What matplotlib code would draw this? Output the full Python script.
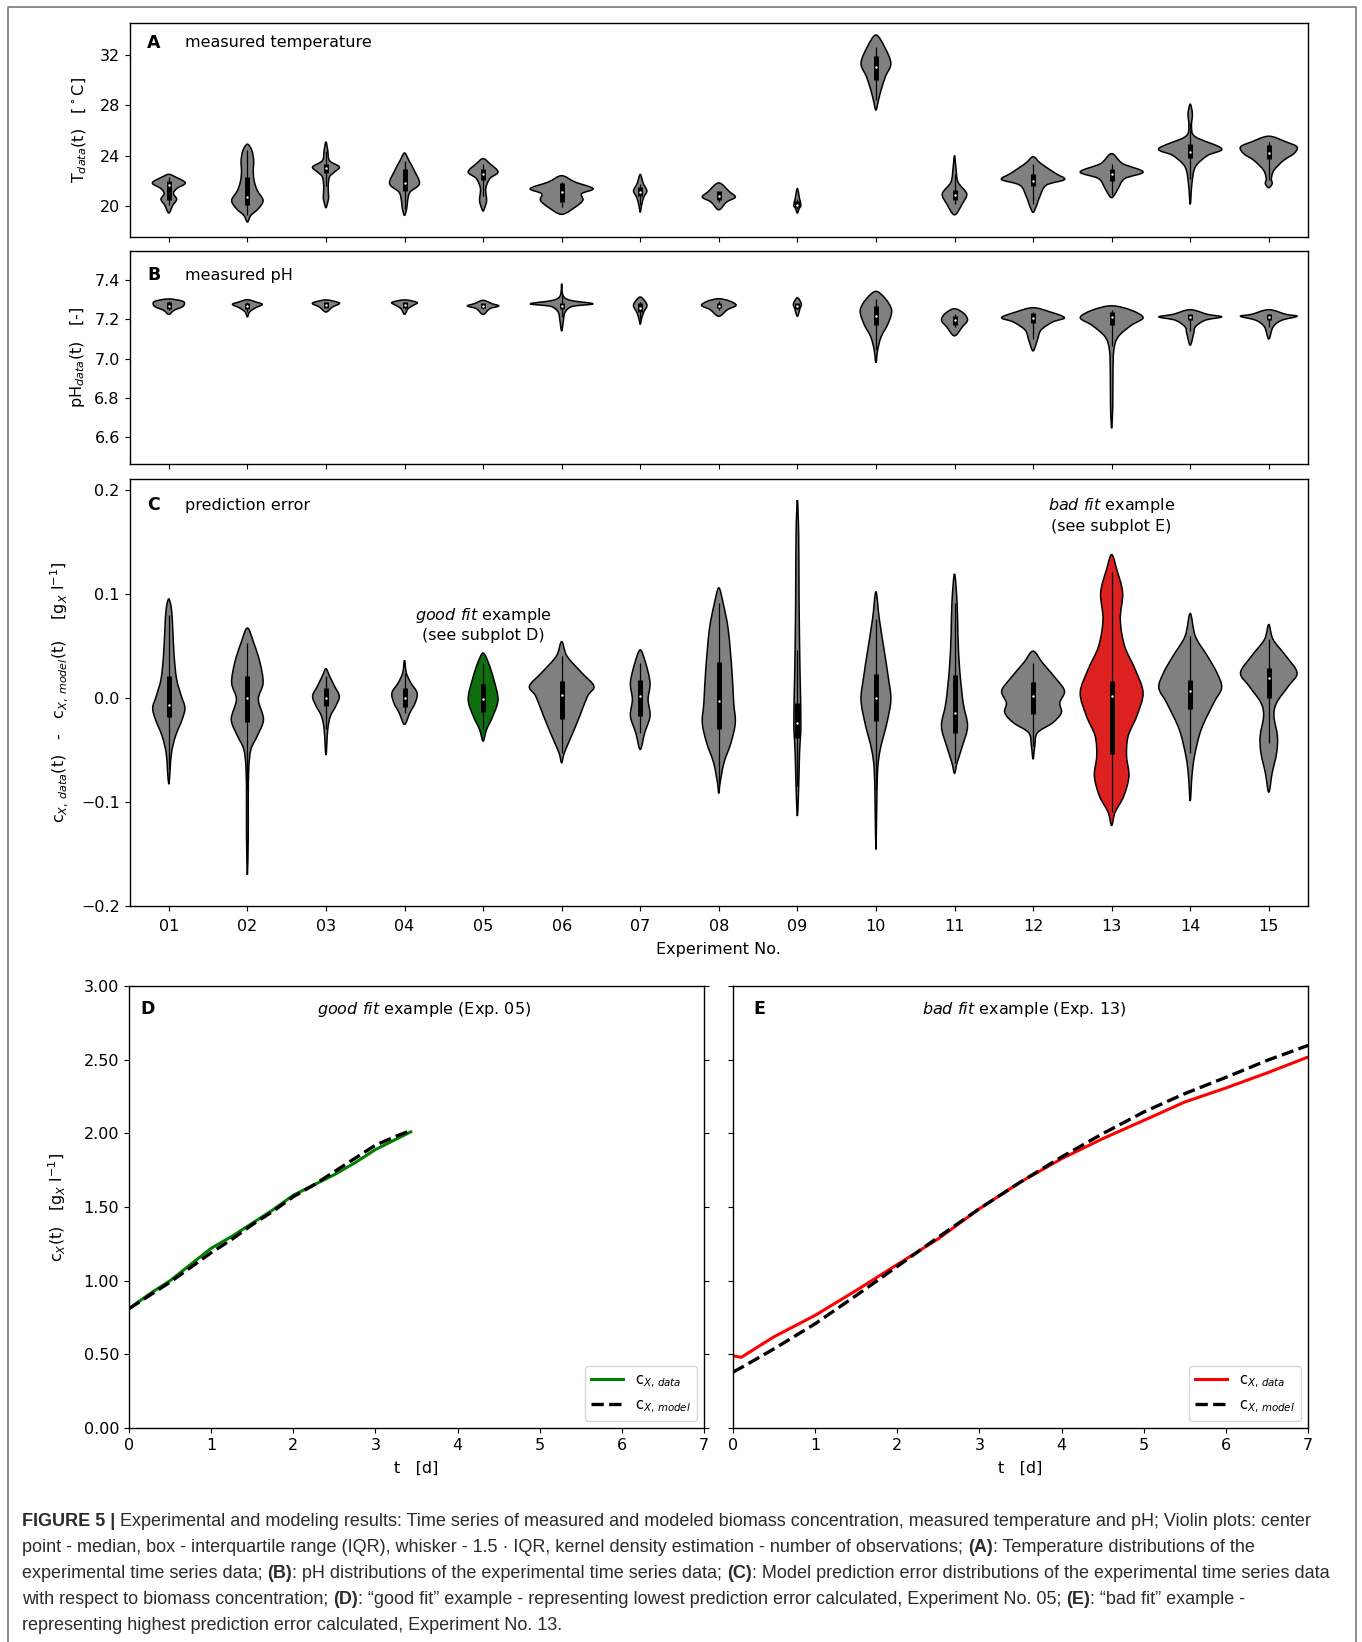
import matplotlib
matplotlib.use('Agg')
import matplotlib.pyplot as plt
from matplotlib.path import Path
from matplotlib.patches import PathPatch
from matplotlib.lines import Line2D

W, H = 1362, 1642

exp_labels = ['01', '02', '03', '04', '05', '06', '07', '08', '09', '10',
              '11', '12', '13', '14', '15']

# ---- panel A: temperature violins (value levels, half widths, [q1, median, q3])
temp_y = [
    [19.44, 20.05, 20.53, 20.98, 21.38, 21.83, 22.3, 22.51],
    [18.73, 19.26, 19.79, 20.45, 21.24, 22.04, 22.8, 23.6, 24.4, 24.9],
    [19.87, 20.3, 20.7, 21.5, 22.3, 22.7, 23.1, 23.6, 24.42, 25.08],
    [19.26, 19.8, 20.45, 21.1, 21.77, 22.8, 23.6, 24.2],
    [19.6, 19.9, 20.45, 21.38, 22.17, 22.7, 23.36, 23.76],
    [19.34, 19.9, 20.45, 20.98, 21.38, 21.9, 22.4],
    [19.5, 20.05, 20.7, 21.2, 21.77, 22.5],
    [19.7, 20.32, 20.7, 21.11, 21.83],
    [19.44, 19.79, 20.05, 20.58, 21.38],
    [27.6, 28.4, 29.2, 30.24, 31.3, 32.6, 33.55],
    [19.3, 20.18, 20.98, 21.9, 23.1, 24.0],
    [19.5, 20.05, 20.7, 21.64, 22.1, 22.57, 23.36, 23.9],
    [20.66, 20.85, 21.38, 22.17, 22.7, 23.36, 24.15],
    [20.13, 21.77, 23.1, 24.0, 24.55, 25.48, 26.27, 27.3, 28.07],
    [21.45, 21.77, 22.17, 22.83, 23.62, 24.15, 24.68, 25.08, 25.53],
]
temp_w = [
    [0, .05, .10, .06, .10, .21, .085, 0],
    [0, .045, .14, .20, .125, .085, .075, .08, .057, 0],
    [0, .023, .034, .028, .045, .11, .17, .045, .023, 0],
    [0, .028, .04, .07, .19, .125, .057, 0],
    [0, .023, .045, .034, .085, .19, .085, 0],
    [0, .17, .27, .255, .40, .17, 0],
    [0, .017, .045, .085, .04, 0],
    [0, .10, .21, .14, 0],
    [0, .022, .045, .028, 0],
    [0, .033, .066, .12, .19, .11, 0],
    [0, .10, .155, .045, .017, 0],
    [0, .045, .083, .166, .40, .29, .10, 0],
    [0, .033, .083, .166, .40, .14, 0],
    [0, .022, .066, .22, .40, .066, .017, .028, 0],
    [0, .044, .033, .066, .19, .32, .36, .22, 0],
]
temp_box = [
    [20.5, 21.7, 22.0], [20.1, 20.7, 22.3], [22.6, 23.0, 23.3], [21.2, 21.8, 22.9],
    [22.1, 22.5, 22.95], [20.3, 21.1, 21.8], [20.8, 21.1, 21.5], [20.5, 20.8, 21.2],
    [19.9, 20.05, 20.4], [30.0, 31.0, 31.9], [20.5, 20.9, 21.3], [21.6, 22.0, 22.55],
    [22.0, 22.5, 22.9], [23.8, 24.3, 24.9], [23.7, 24.2, 24.8],
]

# ---- panel B: pH violins
ph_y = [
    [7.226, 7.247, 7.264, 7.28, 7.294, 7.305],
    [7.213, 7.238, 7.259, 7.277, 7.289, 7.301],
    [7.238, 7.264, 7.28, 7.289, 7.30],
    [7.226, 7.255, 7.272, 7.287, 7.30],
    [7.226, 7.255, 7.269, 7.281, 7.298],
    [7.14, 7.196, 7.238, 7.267, 7.28, 7.298, 7.323, 7.383],
    [7.175, 7.204, 7.238, 7.267, 7.289, 7.315],
    [7.216, 7.25, 7.272, 7.294, 7.306],
    [7.216, 7.255, 7.28, 7.311],
    [6.978, 7.043, 7.111, 7.179, 7.247, 7.306, 7.344],
    [7.116, 7.162, 7.196, 7.23, 7.255],
    [7.039, 7.094, 7.145, 7.187, 7.209, 7.238, 7.26],
    [6.643, 6.753, 6.923, 7.043, 7.111, 7.17, 7.209, 7.247, 7.27],
    [7.068, 7.128, 7.162, 7.196, 7.213, 7.226, 7.25],
    [7.10, 7.162, 7.196, 7.216, 7.226, 7.25],
]
ph_w = [
    [0, .068, .17, .20, .17, 0],
    [0, .028, .10, .19, .11, 0],
    [0, .085, .17, .14, 0],
    [0, .045, .11, .16, 0],
    [0, .085, .20, .11, 0],
    [0, .023, .045, .14, .40, .11, .017, 0],
    [0, .017, .045, .085, .068, 0],
    [0, .11, .22, .14, 0],
    [0, .033, .05, 0],
    [0, .022, .066, .155, .20, .12, 0],
    [0, .10, .166, .12, 0],
    [0, .055, .10, .25, .40, .22, 0],
    [0, .014, .017, .028, .083, .25, .40, .25, 0],
    [0, .044, .066, .19, .40, .22, 0],
    [0, .055, .166, .36, .22, 0],
]
ph_box = [
    [7.255, 7.27, 7.29], [7.255, 7.27, 7.285], [7.26, 7.275, 7.29], [7.26, 7.275, 7.29],
    [7.258, 7.27, 7.285], [7.255, 7.27, 7.285], [7.24, 7.26, 7.285], [7.26, 7.27, 7.285],
    [7.255, 7.27, 7.285], [7.17, 7.22, 7.27], [7.17, 7.195, 7.22], [7.18, 7.205, 7.235],
    [7.17, 7.21, 7.24], [7.195, 7.21, 7.23], [7.195, 7.21, 7.23],
]

# ---- panel C: prediction error violins
err_y = [
    [-0.083, -0.0688, -0.0528, -0.0368, -0.0208, -0.0096, 0.0016, 0.0176, 0.040, 0.066, 0.085, 0.095],
    [-0.17, -0.133, -0.1, -0.0688, -0.0496, -0.0368, -0.0208, -0.0016, 0.0144, 0.034, 0.053, 0.067],
    [-0.055, -0.0304, -0.0176, -0.008, 0.0016, 0.011, 0.021, 0.028],
    [-0.0256, -0.0144, -0.0048, 0.0048, 0.0144, 0.024, 0.036],
    [-0.0416, -0.0304, -0.0176, -0.0016, 0.0176, 0.0336, 0.043],
    [-0.0624, -0.0528, -0.0368, -0.0176, 0.0016, 0.0112, 0.024, 0.04, 0.054],
    [-0.0496, -0.0336, -0.0176, -0.0016, 0.0144, 0.0336, 0.046],
    [-0.0918, -0.0816, -0.0624, -0.0432, -0.024, -0.0048, 0.0272, 0.0656, 0.091, 0.1056],
    [-0.1136, -0.085, -0.053, -0.024, 0.027, 0.091, 0.155, 0.19],
    [-0.1456, -0.1, -0.0688, -0.0496, -0.024, -0.0016, 0.0208, 0.0432, 0.0752, 0.1018],
    [-0.0726, -0.0624, -0.0464, -0.0272, -0.0048, 0.027, 0.059, 0.091, 0.119],
    [-0.059, -0.046, -0.0336, -0.024, -0.0144, -0.0048, 0.0064, 0.0176, 0.0336, 0.0448],
    [-0.1226, -0.11, -0.0944, -0.0752, -0.056, -0.0368, -0.0176, 0.0048, 0.0272, 0.0496,
     0.0752, 0.1008, 0.123, 0.1376],
    [-0.0992, -0.0752, -0.056, -0.0304, -0.0048, 0.0096, 0.024, 0.04, 0.059, 0.081],
    [-0.0906, -0.072, -0.053, -0.0368, -0.0176, -0.0048, 0.0112, 0.024, 0.04, 0.056, 0.0704],
]
err_w = [
    [0, .017, .034, .085, .17, .205, .16, .10, .068, .05, .034, 0],
    [0, .011, .011, .017, .045, .125, .205, .14, .20, .16, .08, 0],
    [0, .023, .057, .125, .17, .11, .045, 0],
    [0, .068, .136, .16, .08, .023, 0],
    [0, .045, .125, .19, .136, .068, 0],
    [0, .034, .125, .23, .33, .41, .256, .068, 0],
    [0, .057, .125, .10, .125, .068, 0],
    [0, .017, .066, .155, .21, .19, .166, .12, .055, 0],
    [0, .017, .028, .045, .033, .022, .017, 0],
    [0, .011, .022, .055, .14, .19, .155, .11, .044, 0],
    [0, .033, .10, .166, .11, .066, .044, .033, 0],
    [0, .022, .055, .25, .36, .34, .40, .30, .12, 0],
    [0, .044, .155, .22, .19, .21, .32, .40, .30, .166, .11, .14, .066, 0],
    [0, .022, .055, .14, .30, .40, .34, .22, .066, 0],
    [0, .044, .10, .11, .066, .10, .25, .36, .22, .055, 0],
]
err_box = [
    [-0.018, -0.007, 0.021], [-0.023, 0.0, 0.021], [-0.008, 0.0, 0.009], [-0.009, 0.0, 0.009],
    [-0.014, -0.001, 0.013], [-0.02, 0.003, 0.016], [-0.017, 0.002, 0.017], [-0.03, -0.003, 0.034],
    [-0.039, -0.024, -0.005], [-0.022, 0.0, 0.0224], [-0.034, -0.015, 0.022], [-0.016, 0.002, 0.015],
    [-0.054, 0.002, 0.016], [-0.011, 0.007, 0.017], [0.0, 0.019, 0.029],
]
err_colors = ['#808080'] * 15
err_colors[4] = '#0f6f0f'
err_colors[12] = '#dd2020'

# ---- panel D / E: biomass time series
t_good = [0, 0.25, 0.5, 0.75, 1.0, 1.25, 1.5, 1.75, 2.0, 2.25, 2.5, 2.75, 3.0, 3.25, 3.43]
cx_good_data = [0.81, 0.91, 1.00, 1.11, 1.22, 1.30, 1.39, 1.48, 1.58, 1.65, 1.72, 1.80, 1.89, 1.96, 2.01]
cx_good_model = [0.81, 0.90, 0.99, 1.09, 1.19, 1.28, 1.38, 1.47, 1.57, 1.65, 1.74, 1.83, 1.92, 1.98, 2.02]

t_bad = [0, 0.1, 0.5, 1.0, 1.5, 2.0, 2.5, 3.0, 3.5, 4.0, 4.5, 5.0, 5.5, 6.0, 6.5, 7.0]
cx_bad_data = [0.49, 0.48, 0.62, 0.765, 0.934, 1.11, 1.285, 1.489, 1.67, 1.828, 1.964, 2.088,
               2.213, 2.308, 2.41, 2.518]
cx_bad_model = [0.38, 0.41, 0.538, 0.708, 0.90, 1.097, 1.296, 1.489, 1.67, 1.84, 1.998, 2.145,
                2.27, 2.38, 2.495, 2.597]


def smooth_path(px, py):
    # closed Catmull-Rom outline drawn as cubic Bezier segments
    n = len(px)
    verts = [(px[0], py[0])]
    codes = [Path.MOVETO]
    for i in range(n):
        x0, y0 = px[i - 1], py[i - 1]
        x1, y1 = px[i], py[i]
        x2, y2 = px[(i + 1) % n], py[(i + 1) % n]
        x3, y3 = px[(i + 2) % n], py[(i + 2) % n]
        verts += [(x1 + (x2 - x0) / 6, y1 + (y2 - y0) / 6),
                  (x2 - (x3 - x1) / 6, y2 - (y3 - y1) / 6),
                  (x2, y2)]
        codes += [Path.CURVE4] * 3
    verts.append((px[0], py[0]))
    codes.append(Path.CLOSEPOLY)
    return Path(verts, codes)


def draw_violins(ax, ys, ws, boxes, colors):
    for i, (y, w, b) in enumerate(zip(ys, ws, boxes)):
        px = [i + v for v in w] + [i - v for v in w[-2:0:-1]]
        py = list(y) + list(y[-2:0:-1])
        ax.add_patch(PathPatch(smooth_path(px, py), facecolor=colors[i],
                               edgecolor='black', lw=1.1, zorder=2))
        q1, med, q3 = b
        iqr = q3 - q1
        lo = max(q1 - 1.5 * iqr, y[1])
        hi = min(q3 + 1.5 * iqr, y[-2])
        ax.vlines(i, lo, hi, color='black', lw=0.9, zorder=3)
        ax.vlines(i, q1, q3, color='black', lw=3.6, zorder=3, capstyle='butt')
        ax.scatter([i], [med], s=3, color='white', lw=0, zorder=4)
    ax.set_xlim(-0.5, 14.5)
    ax.set_xticks(range(15))


fig = plt.figure(figsize=(W / 100, H / 100), dpi=100)
fig.patch.set_facecolor('white')

axA = fig.add_axes([0.0951, 0.8557, 0.8653, 0.1303])
axB = fig.add_axes([0.0951, 0.7174, 0.8653, 0.1297])
axC = fig.add_axes([0.0951, 0.4482, 0.8653, 0.2600])
axD = fig.add_axes([0.0947, 0.1303, 0.4222, 0.2692])
axE = fig.add_axes([0.5382, 0.1303, 0.4222, 0.2692])

FS = 11.5

# A
draw_violins(axA, temp_y, temp_w, temp_box, ['#808080'] * 15)
axA.set_ylim(17.55, 34.5)
axA.set_yticks([20, 24, 28, 32])
axA.tick_params(labelbottom=False, labelsize=FS)
axA.set_ylabel(r'T$_{data}$(t)   [$^\circ$C]', fontsize=FS)
axA.yaxis.set_label_coords(-0.034, 0.5)
axA.text(0.015, 0.907, 'A', transform=axA.transAxes, fontsize=12.5, fontweight='bold', va='center')
axA.text(0.047, 0.907, 'measured temperature', transform=axA.transAxes, fontsize=FS, va='center')

# B
draw_violins(axB, ph_y, ph_w, ph_box, ['#808080'] * 15)
axB.set_ylim(6.46, 7.55)
axB.set_yticks([6.6, 6.8, 7.0, 7.2, 7.4])
axB.tick_params(labelbottom=False, labelsize=FS)
axB.set_ylabel(r'pH$_{data}$(t)   [-]', fontsize=FS)
axB.yaxis.set_label_coords(-0.036, 0.5)
axB.text(0.015, 0.887, 'B', transform=axB.transAxes, fontsize=12.5, fontweight='bold', va='center')
axB.text(0.047, 0.887, 'measured pH', transform=axB.transAxes, fontsize=FS, va='center')

# C
draw_violins(axC, err_y, err_w, err_box, err_colors)
axC.set_ylim(-0.2, 0.21)
axC.set_yticks([-0.2, -0.1, 0.0, 0.1, 0.2])
axC.set_xticklabels(exp_labels)
axC.tick_params(labelsize=FS)
axC.tick_params(axis='x', pad=5.5)
axC.set_xlabel('Experiment No.', fontsize=FS, labelpad=6)
axC.set_ylabel(r'c$_{X,\,data}$(t)   -   c$_{X,\,model}$(t)    [g$_X$ l$^{-1}$]', fontsize=FS)
axC.yaxis.set_label_coords(-0.0505, 0.5)
axC.text(0.015, 0.939, 'C', transform=axC.transAxes, fontsize=12.5, fontweight='bold', va='center')
axC.text(0.047, 0.939, 'prediction error', transform=axC.transAxes, fontsize=FS, va='center')
axC.text(4, 0.0705, r'$\it{good\ fit}$ example' + '\n(see subplot D)', ha='center', va='center',
         fontsize=FS, linespacing=1.3)
axC.text(12, 0.1755, r'$\it{bad\ fit}$ example' + '\n(see subplot E)', ha='center', va='center',
         fontsize=FS, linespacing=1.3)

# D
axD.plot(t_good, cx_good_data, color='green', lw=2.2, label=r'c$_{X,\,data}$')
axD.plot(t_good, cx_good_model, color='black', lw=2.4, ls='--', label=r'c$_{X,\,model}$')
axD.set_xlim(0, 7)
axD.set_ylim(0, 3)
axD.set_yticks([0, 0.5, 1.0, 1.5, 2.0, 2.5, 3.0])
axD.set_yticklabels(['0.00', '0.50', '1.00', '1.50', '2.00', '2.50', '3.00'])
axD.tick_params(labelsize=FS, right=True)
axD.set_xlabel('t   [d]', fontsize=FS, labelpad=6)
axD.set_ylabel(r'c$_X$(t)   [g$_X$ l$^{-1}$]', fontsize=FS)
axD.yaxis.set_label_coords(-0.106, 0.5)
axD.legend(loc='lower right', fontsize=10.5, handlelength=2.2)
axD.text(0.019, 0.948, 'D', transform=axD.transAxes, fontsize=12.5, fontweight='bold', va='center')
axD.text(0.513, 0.948, r'$\it{good\ fit}$ example (Exp. 05)', transform=axD.transAxes,
         fontsize=FS, ha='center', va='center')

# E
axE.plot(t_bad, cx_bad_data, color='red', lw=2.2, label=r'c$_{X,\,data}$')
axE.plot(t_bad, cx_bad_model, color='black', lw=2.4, ls='--', label=r'c$_{X,\,model}$')
axE.set_xlim(0, 7)
axE.set_ylim(0, 3)
axE.set_yticks([0, 0.5, 1.0, 1.5, 2.0, 2.5, 3.0])
axE.tick_params(labelsize=FS, labelleft=False)
axE.set_xlabel('t   [d]', fontsize=FS, labelpad=6)
axE.legend(loc='lower right', fontsize=10.5, handlelength=2.2)
axE.text(0.035, 0.948, 'E', transform=axE.transAxes, fontsize=12.5, fontweight='bold', va='center')
axE.text(0.506, 0.948, r'$\it{bad\ fit}$ example (Exp. 13)', transform=axE.transAxes,
         fontsize=FS, ha='center', va='center')

for ax in (axA, axB, axC, axD, axE):
    for s in ax.spines.values():
        s.set_linewidth(1.0)

# outer frame (open at the bottom)
fig.add_artist(Line2D([8 / W, 8 / W, 1356 / W, 1356 / W], [0, 1 - 7 / H, 1 - 7 / H, 0],
                      transform=fig.transFigure, color='#7a7a7a', lw=1.2))

# caption
caption = [
    [('FIGURE 5 |', True), (' Experimental and modeling results: Time series of measured and modeled '
                            'biomass concentration, measured temperature and pH; Violin plots: center', False)],
    [('point - median, box - interquartile range (IQR), whisker - 1.5 \u00b7 IQR, kernel density '
      'estimation - number of observations; ', False), ('(A)', True),
     (': Temperature distributions of the', False)],
    [('experimental time series data; ', False), ('(B)', True),
     (': pH distributions of the experimental time series data; ', False), ('(C)', True),
     (': Model prediction error distributions of the experimental time series data', False)],
    [('with respect to biomass concentration; ', False), ('(D)', True),
     (': \u201cgood fit\u201d example - representing lowest prediction error calculated, '
      'Experiment No. 05; ', False), ('(E)', True), (': \u201cbad fit\u201d example -', False)],
    [('representing highest prediction error calculated, Experiment No. 13.', False)],
]
cap_font = ['Liberation Sans', 'DejaVu Sans']
renderer = fig.canvas.get_renderer()


def seg_width(txt, bold, fs):
    t1 = fig.text(0, 0, '|' + txt + '|', fontsize=fs, family=cap_font,
                  fontweight='bold' if bold else 'normal')
    t2 = fig.text(0, 0, '||', fontsize=fs, family=cap_font,
                  fontweight='bold' if bold else 'normal')
    wdt = t1.get_window_extent(renderer).width - t2.get_window_extent(renderer).width
    t1.remove()
    t2.remove()
    return wdt


base_fs = 12
line1 = sum(seg_width(t, b, base_fs) for t, b in caption[0])
cap_fs = base_fs * (1313 - 22) / line1

for k, parts in enumerate(caption):
    x = 22
    yb = 1526 + 26 * k
    for txt, bold in parts:
        fig.text(x / W, 1 - yb / H, txt, fontsize=cap_fs, family=cap_font,
                 fontweight='bold' if bold else 'normal', color='#2b2b2b',
                 ha='left', va='baseline')
        x += seg_width(txt, bold, cap_fs)

fig.savefig('out.png', dpi=100, facecolor='white')
